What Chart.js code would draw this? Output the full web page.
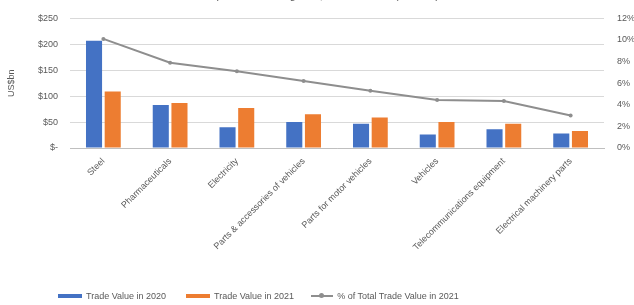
<!DOCTYPE html>
<html>
<head>
<meta charset="utf-8">
<script src="https://cdn.jsdelivr.net/npm/chart.js@4.4.0/dist/chart.umd.min.js"></script>
<style>
  html,body{margin:0;padding:0;background:#fff;overflow:hidden;}
  #wrap{position:relative;width:634px;height:305px;font-family:"Liberation Sans",Arial,sans-serif;}
  #title{position:absolute;top:-11px;left:0;width:570px;text-align:center;font-size:11px;color:#595959;white-space:nowrap;}
  #legend{position:absolute;top:291px;left:58px;display:flex;align-items:center;font-size:9px;color:#595959;white-space:nowrap;}
  .item{display:flex;align-items:center;}
  .sw{width:24px;height:4px;margin-right:4px;}
  .ln{position:relative;width:22px;height:2px;margin-right:4px;}
  .ln i{position:absolute;left:8px;top:-2px;width:5px;height:5px;border-radius:50%;}
</style>
</head>
<body>
<div id="wrap">
  <canvas id="c" width="634" height="305"></canvas>
  <div id="title">Trade Value of Top Product Categories, 2020 vs 2021 (US$ bn)</div>
  <div id="legend"></div>
</div>
<script>
const categories = ['Steel','Pharmaceuticals','Electricity','Parts & accessories of vehicles','Parts for motor vehicles','Vehicles','Telecommunications equipment','Electrical machinery parts'];
const value2020 = [207, 83, 40, 50, 47, 26, 36, 28];
const value2021 = [109, 87, 77, 65, 59, 50, 47, 33];
const share2021 = [10.1, 7.9, 7.1, 6.2, 5.3, 4.45, 4.36, 3.0];
const seriesNames = ['Trade Value in 2020','Trade Value in 2021','% of Total Trade Value in 2021'];
const seriesColors = ['#4472C4','#ED7D31','#8E8E8E'];
const leftAxisTitle = 'US$bn';

const FONT = '"Liberation Sans", Arial, sans-serif';
const TXT = '#595959';

const chart = new Chart(document.getElementById('c'), {
  type: 'bar',
  data: {
    labels: categories,
    datasets: [
      {label: seriesNames[2], type: 'line', data: share2021, yAxisID: 'y1', borderColor: seriesColors[2], backgroundColor: seriesColors[2], borderWidth: 2, pointRadius: 2, pointBackgroundColor: seriesColors[2], pointBorderWidth: 0, tension: 0, order: 0},
      {label: seriesNames[0], data: value2020, yAxisID: 'y', backgroundColor: seriesColors[0], categoryPercentage: 0.56, barPercentage: 0.86, order: 1},
      {label: seriesNames[1], data: value2021, yAxisID: 'y', backgroundColor: seriesColors[1], categoryPercentage: 0.56, barPercentage: 0.86, order: 1}
    ]
  },
  options: {
    responsive: false,
    animation: false,
    layout: {padding: {left: 6, right: 0, top: 16, bottom: 27}},
    plugins: {legend: {display: false}, title: {display: false}, tooltip: {enabled: false}},
    scales: {
      x: {
        grid: {display: false, drawTicks: false},
        border: {display: true, color: '#BFBFBF'},
        ticks: {minRotation: 45, maxRotation: 45, autoSkip: false, padding: 8, color: TXT, font: {size: 9, family: FONT}},
        afterFit: s => { s.height = 130; }
      },
      y: {
        min: 0, max: 250,
        ticks: {stepSize: 50, padding: 12, color: TXT, font: {size: 9, family: FONT}, callback: v => v === 0 ? '$-' : '$' + v},
        grid: {color: '#D9D9D9', drawTicks: false},
        border: {display: false},
        title: {display: true, text: leftAxisTitle, color: TXT, font: {size: 9, family: FONT}, padding: 0},
        afterFit: s => { s.width = 64; }
      },
      y1: {
        position: 'right',
        min: 0, max: 12,
        ticks: {stepSize: 2, padding: 13, color: TXT, font: {size: 9, family: FONT}, callback: v => v + '%'},
        grid: {display: false, drawTicks: false},
        border: {display: false},
        afterFit: s => { s.width = 30; }
      }
    }
  }
});

const lg = document.getElementById('legend');
const order = [0, 1, 2];
const gaps = ['20px', '17px', '0'];
order.forEach((k, i) => {
  const it = document.createElement('div');
  it.className = 'item';
  it.style.marginRight = gaps[i];
  if (k < 2) {
    const s = document.createElement('div'); s.className = 'sw'; s.style.background = seriesColors[k]; it.appendChild(s);
  } else {
    const s = document.createElement('div'); s.className = 'ln'; s.style.background = seriesColors[k];
    const m = document.createElement('i'); m.style.background = seriesColors[k]; s.appendChild(m); it.appendChild(s);
  }
  const t = document.createElement('span'); t.textContent = seriesNames[k]; it.appendChild(t);
  lg.appendChild(it);
});
</script>
</body>
</html>
